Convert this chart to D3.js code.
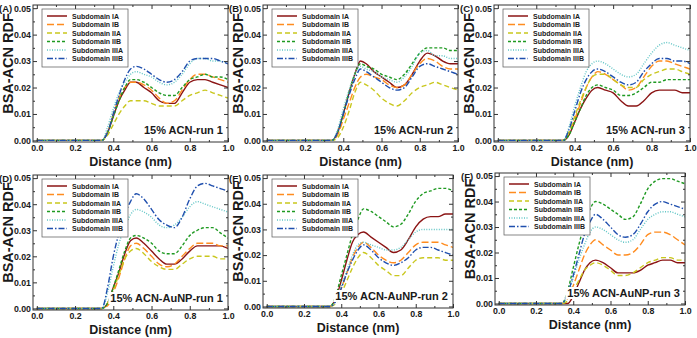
<!DOCTYPE html>
<html>
<head>
<meta charset="utf-8">
<script src="https://cdn.jsdelivr.net/npm/d3@7"></script>
<style>
  body { margin: 0; background: #fff; }
  svg { font-family: "Liberation Sans", Arial, sans-serif; }
</style>
</head>
<body>
<svg id="chart" width="697" height="338"></svg>
<script>
// distance grid (nm)
var distance = [0, 0.34, 0.37, 0.40, 0.43, 0.46, 0.49, 0.52, 0.56, 0.60, 0.64, 0.68, 0.72, 0.76, 0.80, 0.84, 0.88, 0.92, 0.96, 1.00];

var subdomains = ["Subdomain IA", "Subdomain IB", "Subdomain IIA", "Subdomain IIB", "Subdomain IIIA", "Subdomain IIIB"];
var panelLetters = ["(A)", "(B)", "(C)", "(D)", "(E)", "(F)"];
var runLabels = ["15% ACN-run 1", "15% ACN-run 2", "15% ACN-run 3",
                 "15% ACN-AuNP-run 1", "15% ACN-AuNP-run 2", "15% ACN-AuNP-run 3"];
var xTicks = [0, 0.2, 0.4, 0.6, 0.8, 1.0];
var xMinor = [0.1, 0.3, 0.5, 0.7, 0.9];
var yTicks = [0, 0.01, 0.02, 0.03, 0.04, 0.05];
var yMinor = [0.005, 0.015, 0.025, 0.035, 0.045];

// RDF values, one array per subdomain, per panel
var rdfA = [
  [0,0,0.003,0.009,0.015,0.019,0.022,0.022,0.020,0.018,0.015,0.014,0.014,0.018,0.022,0.023,0.023,0.022,0.021,0.020],
  [0,0,0.003,0.010,0.016,0.020,0.022,0.022,0.021,0.019,0.016,0.014,0.015,0.019,0.023,0.025,0.025,0.024,0.023,0.022],
  [0,0,0.002,0.006,0.010,0.013,0.015,0.015,0.015,0.014,0.013,0.013,0.013,0.015,0.017,0.018,0.019,0.018,0.017,0.016],
  [0,0,0.003,0.009,0.015,0.020,0.023,0.023,0.022,0.020,0.018,0.017,0.017,0.020,0.023,0.024,0.025,0.024,0.024,0.023],
  [0,0,0.005,0.012,0.018,0.022,0.025,0.026,0.025,0.024,0.022,0.021,0.022,0.025,0.029,0.031,0.031,0.030,0.030,0.029],
  [0,0,0.003,0.010,0.017,0.023,0.027,0.028,0.027,0.025,0.023,0.022,0.023,0.026,0.030,0.031,0.031,0.031,0.030,0.029]
];
var rdfB = [
  [0,0,0.003,0.010,0.018,0.025,0.030,0.029,0.026,0.024,0.022,0.020,0.021,0.025,0.030,0.033,0.032,0.030,0.029,0.029],
  [0,0,0.002,0.008,0.014,0.020,0.024,0.025,0.024,0.023,0.021,0.020,0.021,0.025,0.029,0.031,0.030,0.028,0.027,0.027],
  [0,0,0.001,0.005,0.011,0.018,0.022,0.021,0.019,0.016,0.014,0.013,0.015,0.018,0.020,0.021,0.022,0.021,0.020,0.019],
  [0,0,0.003,0.010,0.018,0.025,0.029,0.028,0.027,0.025,0.024,0.023,0.025,0.029,0.033,0.035,0.035,0.035,0.034,0.034],
  [0,0,0.004,0.012,0.019,0.025,0.028,0.027,0.026,0.024,0.023,0.022,0.024,0.028,0.033,0.034,0.032,0.032,0.031,0.031],
  [0,0,0.003,0.010,0.017,0.023,0.027,0.026,0.024,0.022,0.020,0.019,0.020,0.024,0.028,0.029,0.028,0.027,0.026,0.025]
];
var rdfC = [
  [0,0,0.002,0.007,0.012,0.016,0.019,0.020,0.019,0.018,0.015,0.013,0.013,0.015,0.018,0.019,0.019,0.019,0.018,0.018],
  [0,0,0.003,0.008,0.014,0.020,0.024,0.026,0.025,0.023,0.021,0.019,0.020,0.024,0.028,0.030,0.030,0.029,0.028,0.027],
  [0,0,0.003,0.009,0.015,0.020,0.024,0.025,0.025,0.023,0.021,0.020,0.020,0.023,0.025,0.026,0.027,0.027,0.026,0.025],
  [0,0,0.002,0.007,0.012,0.017,0.020,0.021,0.020,0.019,0.017,0.017,0.018,0.020,0.022,0.022,0.023,0.023,0.023,0.023],
  [0,0,0.005,0.013,0.020,0.026,0.029,0.030,0.029,0.027,0.025,0.024,0.025,0.029,0.033,0.036,0.037,0.036,0.035,0.034],
  [0,0,0.004,0.011,0.018,0.023,0.026,0.027,0.026,0.024,0.022,0.021,0.022,0.026,0.029,0.031,0.031,0.030,0.030,0.029]
];
var rdfD = [
  [0,0,0.002,0.008,0.014,0.021,0.026,0.027,0.025,0.022,0.019,0.017,0.017,0.019,0.022,0.024,0.024,0.024,0.024,0.023],
  [0,0,0.001,0.006,0.012,0.019,0.024,0.025,0.023,0.020,0.017,0.016,0.017,0.020,0.023,0.025,0.025,0.025,0.024,0.024],
  [0,0,0.002,0.007,0.013,0.019,0.022,0.023,0.021,0.018,0.016,0.015,0.015,0.017,0.019,0.020,0.020,0.020,0.019,0.019],
  [0,0,0.002,0.008,0.015,0.022,0.027,0.028,0.027,0.025,0.022,0.021,0.021,0.024,0.028,0.030,0.031,0.031,0.029,0.027],
  [0,0,0.006,0.016,0.025,0.031,0.036,0.038,0.037,0.035,0.032,0.031,0.032,0.035,0.039,0.041,0.040,0.039,0.038,0.037],
  [0,0,0.008,0.020,0.029,0.036,0.041,0.044,0.042,0.038,0.034,0.032,0.031,0.035,0.042,0.047,0.048,0.047,0.046,0.045]
];
var rdfE = [
  [0,0,0.003,0.010,0.018,0.025,0.028,0.029,0.027,0.025,0.023,0.021,0.022,0.026,0.031,0.034,0.035,0.035,0.036,0.036],
  [0,0,0.002,0.007,0.013,0.019,0.023,0.025,0.023,0.020,0.018,0.017,0.018,0.021,0.024,0.025,0.025,0.025,0.024,0.023],
  [0,0,0.001,0.005,0.010,0.015,0.019,0.021,0.019,0.016,0.014,0.012,0.012,0.015,0.018,0.019,0.019,0.019,0.018,0.018],
  [0,0,0.004,0.012,0.020,0.028,0.034,0.038,0.037,0.035,0.033,0.031,0.032,0.036,0.041,0.044,0.045,0.046,0.046,0.045],
  [0,0,0.002,0.008,0.014,0.020,0.024,0.025,0.024,0.023,0.022,0.022,0.023,0.026,0.029,0.030,0.030,0.030,0.030,0.030],
  [0,0,0.002,0.007,0.013,0.018,0.022,0.024,0.022,0.019,0.017,0.016,0.017,0.019,0.022,0.023,0.023,0.022,0.021,0.020]
];
var rdfF = [
  [0,0,0,0.003,0.008,0.013,0.016,0.017,0.016,0.014,0.012,0.012,0.012,0.013,0.015,0.016,0.017,0.017,0.016,0.016],
  [0,0,0.002,0.007,0.013,0.019,0.023,0.025,0.023,0.021,0.019,0.019,0.020,0.023,0.027,0.028,0.028,0.027,0.025,0.023],
  [0,0,0.001,0.005,0.009,0.013,0.015,0.016,0.015,0.013,0.011,0.011,0.012,0.014,0.016,0.017,0.018,0.018,0.017,0.017],
  [0,0,0.005,0.014,0.023,0.031,0.037,0.040,0.039,0.037,0.035,0.033,0.034,0.039,0.045,0.048,0.049,0.049,0.048,0.047],
  [0,0,0.003,0.010,0.017,0.023,0.028,0.030,0.029,0.027,0.025,0.024,0.025,0.029,0.033,0.035,0.036,0.036,0.035,0.034],
  [0,0,0.004,0.011,0.019,0.027,0.032,0.035,0.033,0.030,0.027,0.026,0.027,0.031,0.036,0.039,0.040,0.039,0.038,0.037]
];
var panelData = [rdfA, rdfB, rdfC, rdfD, rdfE, rdfF];

// plot boxes [left, top, width, height]
var boxes = [
  [33, 5, 195, 137], [263, 5, 195, 137], [494, 5, 196, 137],
  [33, 175, 195, 135], [263, 175, 190, 133], [495, 173, 190, 132]
];

var colors = ["#8b1414", "#ff8c1f", "#c9c71e", "#1f9a22", "#62c6c6", "#1f4fae"];
var dashes = [null, "7,3", "5,3", "3,2", "1,1.5", "6,2,1.5,2"];

var svg = d3.select("#chart");

function styleAxis(ax) {
  ax.select(".domain").remove();
  ax.selectAll("text").attr("font-size", 8.8).attr("font-weight", "bold").attr("fill", "#1a1a1a");
  ax.selectAll("line").attr("stroke", "#333");
}

panelData.forEach(function(series, p) {
  var b = boxes[p];
  var g = svg.append("g").attr("transform", "translate(" + b[0] + "," + b[1] + ")");

  var x = d3.scaleLinear().domain([-0.02, 1.0]).range([0, b[2]]);
  var y = d3.scaleLinear().domain([-0.0006, 0.0512]).range([b[3], 0]);

  var clipId = "clip" + p;
  g.append("clipPath").attr("id", clipId)
    .append("rect").attr("width", b[2]).attr("height", b[3]);

  // lines
  var line = d3.line()
    .x(function(d, i) { return x(distance[i]); })
    .y(function(d) { return y(d); })
    .curve(d3.curveMonotoneX);

  var lines = g.append("g").attr("clip-path", "url(#" + clipId + ")");
  series.forEach(function(vals, s) {
    lines.append("path")
      .attr("d", line(vals))
      .attr("fill", "none")
      .attr("stroke", colors[s])
      .attr("stroke-width", 1.4)
      .attr("stroke-dasharray", dashes[s]);
  });

  // axes (ticks point inward, minor ticks on all sides)
  var xAxis = g.append("g").attr("transform", "translate(0," + b[3] + ")")
    .call(d3.axisBottom(x).tickValues(xTicks).tickSizeInner(-4).tickSizeOuter(0).tickPadding(3)
      .tickFormat(d3.format(".1f")));
  var yAxis = g.append("g")
    .call(d3.axisLeft(y).tickValues(yTicks).tickSizeInner(-4).tickSizeOuter(0).tickPadding(2)
      .tickFormat(d3.format(".2f")));
  styleAxis(xAxis);
  styleAxis(yAxis);

  var extra = [
    g.append("g").attr("transform", "translate(0," + b[3] + ")")
      .call(d3.axisBottom(x).tickValues(xMinor).tickSize(-2).tickFormat("")),
    g.append("g").call(d3.axisTop(x).tickValues(xTicks).tickSize(-4).tickFormat("")),
    g.append("g").call(d3.axisTop(x).tickValues(xMinor).tickSize(-2).tickFormat("")),
    g.append("g").call(d3.axisLeft(y).tickValues(yMinor).tickSize(-2).tickFormat("")),
    g.append("g").attr("transform", "translate(" + b[2] + ",0)")
      .call(d3.axisRight(y).tickValues(yTicks).tickSize(-4).tickFormat("")),
    g.append("g").attr("transform", "translate(" + b[2] + ",0)")
      .call(d3.axisRight(y).tickValues(yMinor).tickSize(-2).tickFormat(""))
  ];
  extra.forEach(styleAxis);

  g.append("rect").attr("width", b[2]).attr("height", b[3])
    .attr("fill", "none").attr("stroke", "#333").attr("stroke-width", 1);

  // titles
  g.append("text")
    .attr("x", b[2] / 2).attr("y", b[3] + 24)
    .attr("text-anchor", "middle").attr("font-size", 12.5).attr("font-weight", "bold")
    .attr("fill", "#1a1a1a").text("Distance (nm)");
  g.append("text")
    .attr("transform", "translate(" + (-20) + "," + (b[3] / 2 - 10) + ") rotate(-90)")
    .attr("text-anchor", "middle").attr("font-size", 14.5).attr("font-weight", "bold")
    .attr("fill", "#1a1a1a").text("BSA-ACN RDF");
  g.append("text")
    .attr("x", -34).attr("y", 7)
    .attr("font-size", 9.5).attr("font-weight", "bold").attr("fill", "#1a1a1a")
    .text(panelLetters[p]);

  // run label with white backing
  var runBg = g.append("rect").attr("fill", "#fff");
  var run = g.append("text")
    .attr("x", b[2] - 5).attr("y", b[3] - 8)
    .attr("text-anchor", "end").attr("font-size", 11).attr("font-weight", "bold")
    .attr("fill", "#1a1a1a").text(runLabels[p]);
  var bb = run.node().getBBox();
  runBg.attr("x", bb.x - 2).attr("y", bb.y).attr("width", bb.width + 4).attr("height", bb.height);

  // legend
  var lg = g.append("g").attr("transform", "translate(9,4)");
  lg.append("rect").attr("width", 86).attr("height", 58)
    .attr("fill", "#fff").attr("stroke", "#555").attr("stroke-width", 0.7);
  subdomains.forEach(function(name, s) {
    var yy = 7 + s * 8.5;
    lg.append("line").attr("x1", 5).attr("x2", 25).attr("y1", yy).attr("y2", yy)
      .attr("stroke", colors[s]).attr("stroke-width", 1.5).attr("stroke-dasharray", dashes[s]);
    lg.append("text").attr("x", 30).attr("y", yy + 2.5)
      .attr("font-size", 7).attr("font-weight", "bold").attr("fill", "#1a1a1a").text(name);
  });
});
</script>
</body>
</html>
